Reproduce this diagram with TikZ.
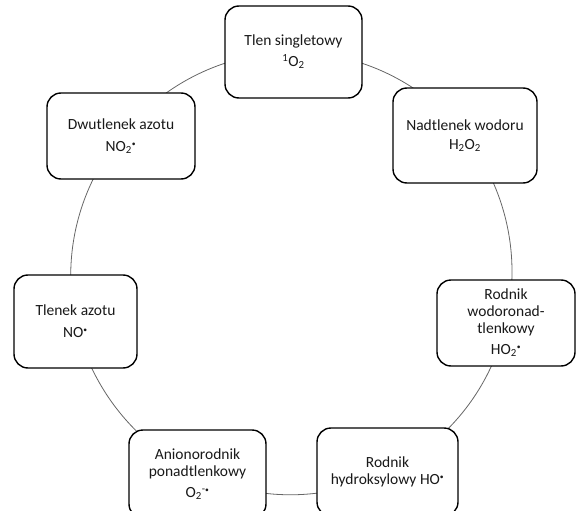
\documentclass[tikz,border=0pt]{standalone}
\usepackage{fontspec}
\setmainfont{Carlito}
\usetikzlibrary{backgrounds}
\newcommand{\rdot}{\textsuperscript{\scalebox{0.7}{•}}}
\begin{document}
\begin{tikzpicture}[x=1pt,y=-1pt,
  box/.style={draw=black, line width=1.4pt, rounded corners=14pt, fill=white,
    align=center, inner sep=0pt, font=\fontsize{15.5}{17}\selectfont, text=black!90},
  ring/.style={draw=black!60, line width=0.8pt}]
\useasboundingbox (0,0) rectangle (576,511);
\clip (0,0) rectangle (576,511);
\node[box, minimum width=137pt, minimum height=92pt] (n1) at (293.5,52)
  {Tlen singletowy\\[4pt]\textsuperscript{1}O\textsubscript{2}};
\node[box, minimum width=144pt, minimum height=95pt] (n2) at (465,135.5)
  {Nadtlenek wodoru\\[2pt]H\textsubscript{2}O\textsubscript{2}};
\node[box, minimum width=138pt, minimum height=86pt] (n3) at (506,323)
  {Rodnik\\wodoronad-\\tlenkowy\\[4pt]HO\textsubscript{2}\rdot};
\node[box, minimum width=141pt, minimum height=88pt] (n4) at (387.5,472)
  {Rodnik\\hydroksylowy HO\rdot};
\node[box, minimum width=137pt, minimum height=88pt] (n5) at (197.5,474)
  {Anionorodnik\\ponadtlenkowy\\[4pt]O\textsubscript{2}\textsuperscript{-\scalebox{0.7}{•}}};
\node[box, minimum width=123pt, minimum height=93pt] (n6) at (75.5,321.5)
  {Tlenek azotu\\[5pt]NO\rdot};
\node[box, minimum width=148pt, minimum height=86pt] (n7) at (121,136)
  {Dwutlenek azotu\\[5pt]NO\textsubscript{2}\rdot};
\begin{scope}[on background layer]
\draw[ring] (n1.center) to[bend left=25.7, looseness=0.9] (n2.center);
\draw[ring] (n2.center) to[bend left=25.7, looseness=0.9] (n3.center);
\draw[ring] (n3.center) to[bend left=25.7, looseness=0.9] (n4.center);
\draw[ring] (n4.center) to[bend left=25.7, looseness=0.9] (n5.center);
\draw[ring] (n5.center) to[bend left=25.7, looseness=0.9] (n6.center);
\draw[ring] (n6.center) to[bend left=25.7, looseness=0.9] (n7.center);
\draw[ring] (n7.center) to[bend left=25.7, looseness=0.9] (n1.center);
\end{scope}
\end{tikzpicture}
\end{document}
